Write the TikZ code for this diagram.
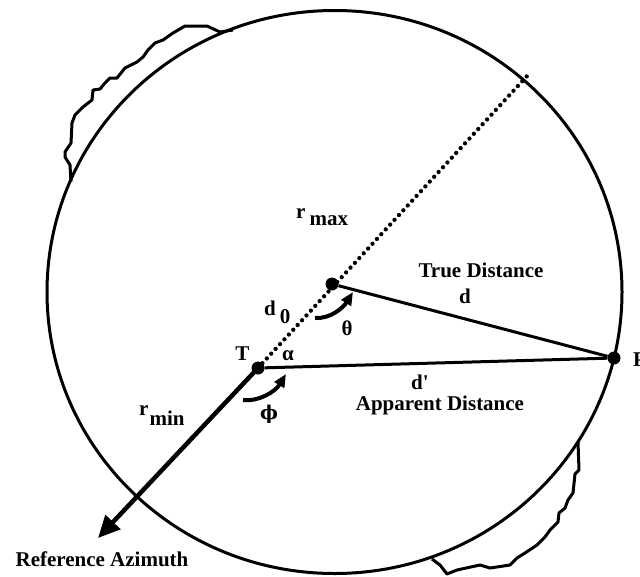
\documentclass[tikz,border=0pt]{standalone}
\usepackage{fontspec}
\setmainfont{Liberation Serif}
\newfontfamily\plainserif{Liberation Serif}
\newfontfamily\greekserif{DejaVu Serif}
\usetikzlibrary{arrows.meta}
\tikzset{
  dot/.style={circle,fill=black,inner sep=0pt,minimum size=13pt},
  heavy/.style={line width=3pt},
  dotline/.style={line width=4.3pt,line cap=round,dash pattern=on 0pt off 6.5pt},
  azline/.style={line width=4.5pt,-{Triangle[length=22pt,width=20pt]}},
  turn/.style={line width=4pt,-{Triangle[length=13pt,width=11pt]}},
  lbl/.style={inner sep=0pt,font=\fontsize{21}{24}\selectfont\bfseries},
}
\begin{document}
\begin{tikzpicture}[x=1pt,y=-1pt]
\useasboundingbox (0,0) rectangle (640,576);
% coverage circle
\draw[heavy] (334.5,292) ellipse [x radius=287.5pt, y radius=281.5pt];
% irregular outlines
\draw[heavy,line join=round] (233,30) -- (220,32) -- (207,26) -- (185,26) -- (173,33) -- (163,40) -- (155,43) -- (148,50) -- (143,57) -- (137,62) -- (125,68) -- (117,78) -- (110,78) -- (105,83) -- (100,89) -- (93,90) -- (92,100) -- (83,107) -- (75,115) -- (72,123) -- (71,143) -- (65,152) -- (65,157) -- (70,165) -- (71,182);
\draw[heavy,line join=round] (578,442) -- (579,470) -- (575,474) -- (573,493) -- (568,500) -- (565,508) -- (559,513) -- (558,522) -- (550,530) -- (545,537) -- (537,545) -- (525,553) -- (517,558) -- (510,565) -- (490,568) -- (480,565) -- (457,570) -- (447,574) -- (440,565) -- (432,559);
% points
\node[dot] (T) at (258,368) {};
\node[dot] (S) at (332,284) {};
\node[dot] (P) at (614,358) {};
\coordinate (E) at (528,75);
\coordinate (A) at (98,538);
% lines
\draw[dotline] (T.center) -- (E);
\draw[azline] (T.center) -- (A);
\draw[heavy] (S) -- (P);
\draw[heavy] (T) -- (P);
% angle arrows
\coordinate (th0) at (315,318);
\coordinate (th1) at (353,292);
\draw[turn] (th0) .. controls (330,319) and (343,308) .. (th1);
\coordinate (ph0) at (243,400);
\coordinate (ph1) at (286,374);
\draw[turn] (ph0) .. controls (258,402) and (275,392) .. (ph1);
% labels
\node[lbl,anchor=base] (lT) at (242.5,360) {T};
\node[lbl,anchor=base] (lal) at (288,360) {α};
\node[lbl,anchor=base] (lth) at (347,335) {θ};
\node[lbl,anchor=base] (lph) at (269,419) {\greekserif\fontsize{19}{22}\selectfont ϕ};
\node[lbl,anchor=base west] (ld0) at (264,315) {d\hspace{4pt}\raisebox{-8pt}{0}};
\node[lbl,anchor=base west] (lrmax) at (296,218) {r\hspace{4pt}\raisebox{-7pt}{max}};
\node[lbl,anchor=base west] (lrmin) at (139,415) {r\hspace{1pt}\raisebox{-10pt}{min}};
\node[lbl,anchor=base] (ltrue) at (481,277) {True Distance};
\node[lbl,anchor=base] (ld) at (465,303) {d};
\node[lbl,anchor=base] (ldp) at (420,389) {\plainserif d'};
\node[lbl,anchor=base] (lapp) at (440,410) {Apparent Distance};
\node[lbl,anchor=base] (lref) at (102,566) {Reference Azimuth};
\node[lbl,anchor=base west] (lP) at (633,366) {P};
\end{tikzpicture}
\end{document}
